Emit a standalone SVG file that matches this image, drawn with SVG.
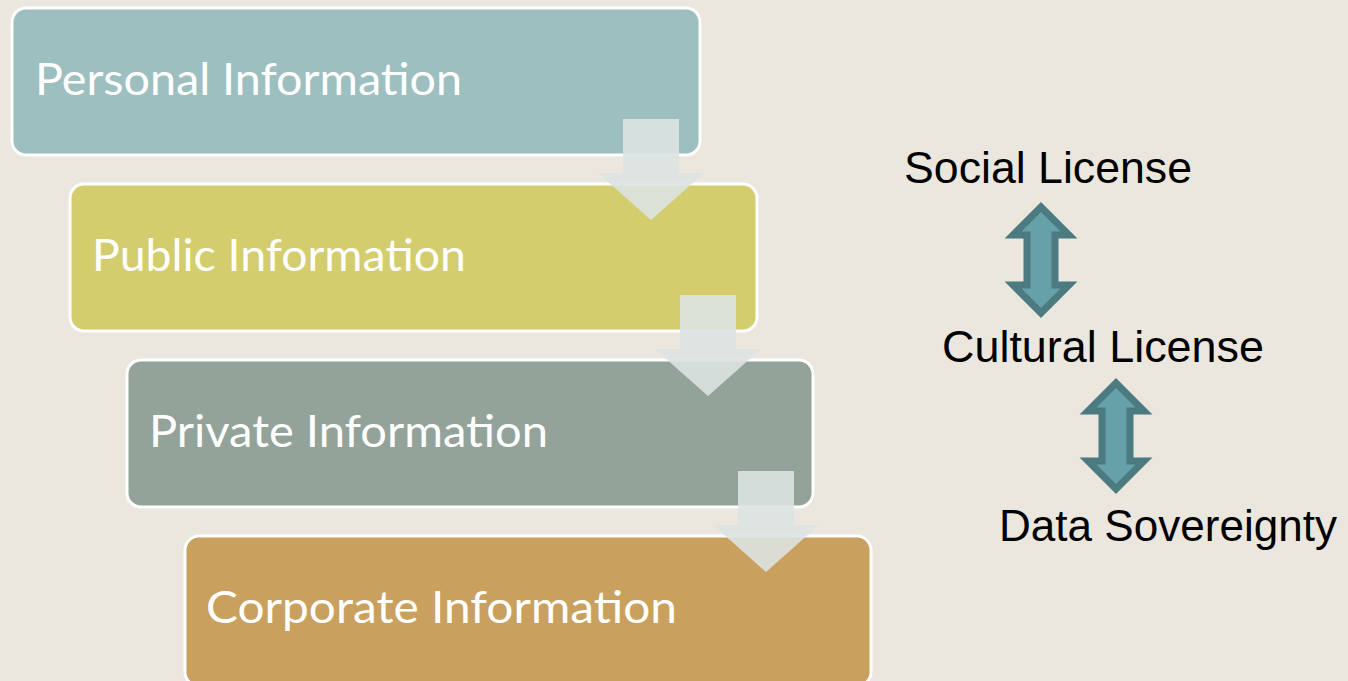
<svg xmlns="http://www.w3.org/2000/svg" width="1348" height="681" viewBox="0 0 1348 681">
<defs>
<style>
.box{stroke:#ffffff;stroke-width:3}
.lbl{font-family:Lato,"Open Sans",sans-serif;font-size:44px;fill:#ffffff}
.flow{fill:#dde3e2;opacity:0.9}
.rt{font-family:"Liberation Sans",Arial,sans-serif;font-size:44px;fill:#000000}
.dbl{fill:#66a1a9;stroke:#4b7a80;stroke-width:7;stroke-linejoin:miter;stroke-miterlimit:10}
</style>
<polygon id="darr" points="0,0 28,28 14,28 14,78 28,78 0,106 -28,78 -14,78 -14,28 -28,28"/>
</defs>
<rect width="1348" height="681" fill="#ebe7de"/>
<g id="personal"><rect class="box" x="12" y="8" width="688" height="147" rx="14" fill="#9dbfbf"/><text class="lbl" x="35" y="95" textLength="427" lengthAdjust="spacingAndGlyphs">Personal Information</text></g>
<g id="public"><rect class="box" x="70" y="184" width="687" height="147" rx="14" fill="#d3cd6e"/><text class="lbl" x="92" y="271" textLength="374" lengthAdjust="spacingAndGlyphs">Public Information</text></g>
<g id="private"><rect class="box" x="127" y="360" width="686" height="147" rx="14" fill="#93a39a"/><text class="lbl" x="149" y="447" textLength="399" lengthAdjust="spacingAndGlyphs">Private Information</text></g>
<g id="corporate"><rect class="box" x="185" y="536" width="686" height="150" rx="14" fill="#c9a05e"/><text class="lbl" x="206" y="623" textLength="471" lengthAdjust="spacingAndGlyphs">Corporate Information</text></g>
<g id="connectors">
<polygon class="flow" points="623,119 679,119 679,173 704,173 651,220 598,173 623,173"/>
<polygon class="flow" points="680,295 736,295 736,349 761,349 708,396 655,349 680,349"/>
<polygon class="flow" points="738,471 794,471 794,525 819,525 766,572 713,525 738,525"/>
<use href="#darr" class="dbl" transform="translate(1041,207)"/>
<use href="#darr" class="dbl" transform="translate(1116,383)"/>
</g>
<g id="social"><text class="rt" x="904" y="183" textLength="288" lengthAdjust="spacingAndGlyphs">Social License</text></g>
<g id="cultural"><text class="rt" x="942" y="362" textLength="322" lengthAdjust="spacingAndGlyphs">Cultural License</text></g>
<g id="sovereignty"><text class="rt" x="999" y="541" textLength="338" lengthAdjust="spacingAndGlyphs">Data Sovereignty</text></g>
</svg>
